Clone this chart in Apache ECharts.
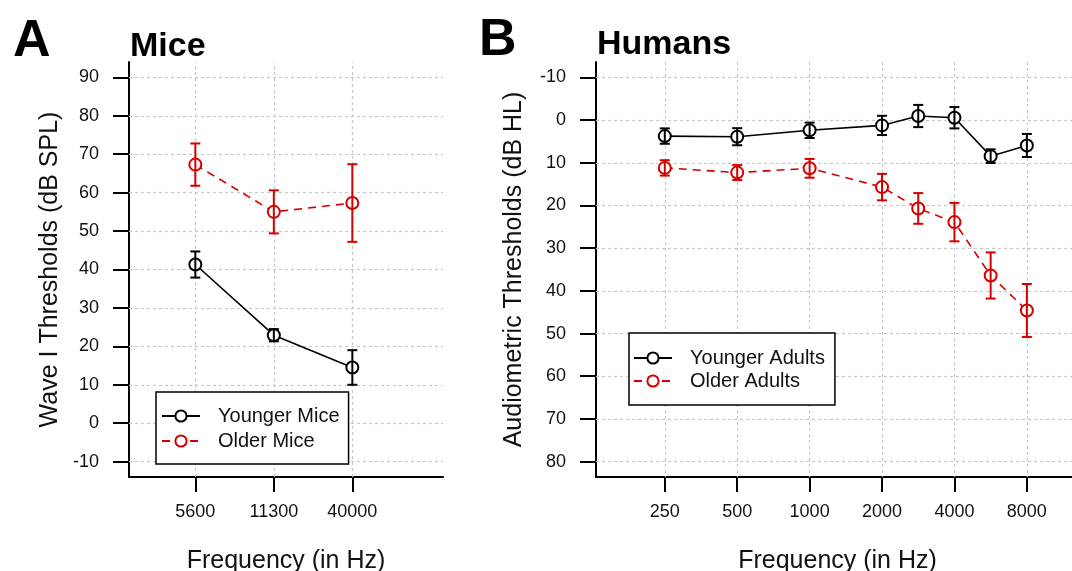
<!DOCTYPE html>
<html>
<head>
<meta charset="utf-8">
<script src="https://cdn.jsdelivr.net/npm/echarts@6/dist/echarts.min.js"></script>
<style>
  html, body { margin: 0; padding: 0; background: #fff; }
  #chart { width: 1072px; height: 571px; }
</style>
</head>
<body>
<div id="chart"></div>
<script>
// ---- data ----
var miceFreqs = ['5600', '11300', '40000'];
var micePos = [1, 2, 3];
var youngMice = [41.3, 22.9, 14.5];
var youngMiceErr = [3.4, 1.6, 4.5];
var olderMice = [67.3, 55.0, 57.3];
var olderMiceErr = [5.5, 5.6, 10.1];
var miceYTicks = [-10, 0, 10, 20, 30, 40, 50, 60, 70, 80, 90];

var humanFreqs = ['250', '500', '1000', '2000', '3000', '4000', '6000', '8000'];
var humanPos = [0, 1, 2, 3, 3.5, 4, 4.5, 5]; // octaves above 250 Hz
var humanTickLabels = ['250', '500', '1000', '2000', '4000', '8000'];
var humanTickPos = [0, 1, 2, 3, 4, 5];
var youngAdults = [3.75, 3.9, 2.4, 1.25, -0.95, -0.55, 8.45, 5.95];
var youngAdultsErr = [1.8, 2.0, 1.8, 2.25, 2.6, 2.5, 1.6, 2.7];
var olderAdults = [11.2, 12.3, 11.3, 15.7, 20.7, 23.9, 36.4, 44.6];
var olderAdultsErr = [1.8, 1.75, 2.2, 3.1, 3.6, 4.5, 5.4, 6.2];
var humanYTicks = [-10, 0, 10, 20, 30, 40, 50, 60, 70, 80];

var BLACK = '#000000';
var RED = '#d40000';
var FONT = 'Liberation Sans, Arial, sans-serif';

function pts(xs, ys) {
  return ys.map(function (y, i) { return [xs[i], y]; });
}
function bars(xs, ys, es) {
  return ys.map(function (y, i) { return [xs[i], y - es[i], y + es[i]]; });
}

function errorSeries(idx, data, color) {
  return {
    type: 'custom',
    xAxisIndex: idx, yAxisIndex: idx,
    z: 4,
    silent: true,
    encode: { x: 0, y: [1, 2] },
    data: data,
    renderItem: function (params, api) {
      var x = api.value(0);
      var lo = api.coord([x, api.value(1)]);
      var hi = api.coord([x, api.value(2)]);
      var w = 5;
      var st = { stroke: color, lineWidth: 2 };
      return {
        type: 'group',
        children: [
          { type: 'line', shape: { x1: lo[0], y1: lo[1], x2: hi[0], y2: hi[1] }, style: st },
          { type: 'line', shape: { x1: lo[0] - w, y1: lo[1], x2: lo[0] + w, y2: lo[1] }, style: st },
          { type: 'line', shape: { x1: hi[0] - w, y1: hi[1], x2: hi[0] + w, y2: hi[1] }, style: st }
        ]
      };
    }
  };
}

function gridLines(xs, ys) {
  var d = [];
  xs.forEach(function (v) { d.push({ xAxis: v }); });
  ys.forEach(function (v) { d.push({ yAxis: v }); });
  return {
    silent: true,
    z: 1,
    symbol: ['none', 'none'],
    label: { show: false },
    lineStyle: { color: '#c8c8c8', width: 1.2, type: [3, 3] },
    emphasis: { disabled: true },
    data: d
  };
}

function lineSeries(name, idx, data, color, dashed, marks) {
  var s = {
    name: name,
    type: 'line',
    xAxisIndex: idx, yAxisIndex: idx,
    z: 3,
    data: data,
    symbol: 'emptyCircle',
    symbolSize: 12,
    color: color,
    itemStyle: { color: color, borderColor: color, borderWidth: 1.8 },
    lineStyle: { color: color, width: 1.6, type: dashed ? [8, 6] : 'solid' },
    emphasis: { disabled: true }
  };
  if (marks) s.markLine = marks;
  return s;
}

var nameTxt = { color: '#111', fontSize: 25, fontFamily: FONT };

var chart = echarts.init(document.getElementById('chart'), null, { renderer: 'canvas' });
var option = {
  animation: false,
  backgroundColor: '#fff',
  title: [
    { text: 'A', left: 8, top: 11, textStyle: { fontSize: 52, fontWeight: 'bold', color: '#000', fontFamily: FONT } },
    { text: 'Mice', left: 125, top: 25, textStyle: { fontSize: 34, fontWeight: 'bold', color: '#000', fontFamily: FONT } },
    { text: 'B', left: 474, top: 10, textStyle: { fontSize: 52, fontWeight: 'bold', color: '#000', fontFamily: FONT } },
    { text: 'Humans', left: 592, top: 23, textStyle: { fontSize: 34, fontWeight: 'bold', color: '#000', fontFamily: FONT } }
  ],
  legend: [
    {
      data: ['Younger Mice', 'Older Mice'],
      orient: 'vertical', left: 156, top: 392,
      borderColor: '#000', borderWidth: 1.5, borderRadius: 0,
      backgroundColor: '#fff',
      padding: [14, 9, 13, 5],
      itemWidth: 38, itemHeight: 14, itemGap: 5,
      textStyle: { fontSize: 20, color: '#111', fontFamily: FONT, padding: [0, 0, 0, 13] }
    },
    {
      data: ['Younger Adults', 'Older Adults'],
      orient: 'vertical', left: 629, top: 333,
      borderColor: '#000', borderWidth: 1.5, borderRadius: 0,
      backgroundColor: '#fff',
      padding: [15, 10, 14, 4],
      itemWidth: 38, itemHeight: 14, itemGap: 3,
      textStyle: { fontSize: 20, color: '#111', fontFamily: FONT, padding: [0, 0, 0, 13] }
    }
  ],
  grid: [
    { left: 129, top: 62, width: 314, height: 415, outerBoundsMode: 'none', containLabel: false },
    { left: 596, top: 62, width: 483, height: 415, outerBoundsMode: 'none', containLabel: false }
  ],
  xAxis: [
    {
      gridIndex: 0, type: 'value', min: 0.155, max: 4.155,
      name: 'Frequency (in Hz)', nameLocation: 'middle', nameGap: 72, nameTextStyle: nameTxt,
      axisLine: { onZero: false, lineStyle: { color: '#000', width: 2 } },
      axisTick: { customValues: micePos, length: 15, lineStyle: { color: '#000', width: 2 } },
      axisLabel: {
        customValues: micePos, margin: 26,
        color: '#111', fontSize: 18, fontFamily: FONT,
        formatter: function (v) { return miceFreqs[micePos.indexOf(v)]; }
      },
      splitLine: { show: false }
    },
    {
      gridIndex: 1, type: 'value', min: -0.95, max: 5.72,
      name: 'Frequency (in Hz)', nameLocation: 'middle', nameGap: 72, nameTextStyle: nameTxt,
      axisLine: { onZero: false, lineStyle: { color: '#000', width: 2 } },
      axisTick: { customValues: humanTickPos, length: 15, lineStyle: { color: '#000', width: 2 } },
      axisLabel: {
        customValues: humanTickPos, margin: 26,
        color: '#111', fontSize: 18, fontFamily: FONT,
        formatter: function (v) { return humanTickLabels[humanTickPos.indexOf(v)]; }
      },
      splitLine: { show: false }
    }
  ],
  yAxis: [
    {
      gridIndex: 0, type: 'value', min: -14, max: 94,
      name: 'Wave I Thresholds (dB SPL)', nameLocation: 'middle', nameGap: 66, nameTextStyle: nameTxt,
      axisLine: { onZero: false, lineStyle: { color: '#000', width: 2 } },
      axisTick: { customValues: miceYTicks, length: 16, lineStyle: { color: '#000', width: 2 } },
      axisLabel: { customValues: miceYTicks, margin: 30, color: '#111', fontSize: 18, fontFamily: FONT },
      splitLine: { show: false }
    },
    {
      gridIndex: 1, type: 'value', min: -13.6, max: 83.6, inverse: true,
      name: 'Audiometric Thresholds (dB HL)', nameLocation: 'middle', nameGap: 69, nameTextStyle: nameTxt,
      axisLine: { onZero: false, lineStyle: { color: '#000', width: 2 } },
      axisTick: { customValues: humanYTicks, length: 16, lineStyle: { color: '#000', width: 2 } },
      axisLabel: { customValues: humanYTicks, margin: 30, color: '#111', fontSize: 18, fontFamily: FONT },
      splitLine: { show: false }
    }
  ],
  series: [
    lineSeries('Younger Mice', 0, pts(micePos, youngMice), BLACK, false, gridLines(micePos, miceYTicks)),
    lineSeries('Older Mice', 0, pts(micePos, olderMice), RED, true),
    errorSeries(0, bars(micePos, youngMice, youngMiceErr), BLACK),
    errorSeries(0, bars(micePos, olderMice, olderMiceErr), RED),
    lineSeries('Younger Adults', 1, pts(humanPos, youngAdults), BLACK, false, gridLines(humanTickPos, humanYTicks)),
    lineSeries('Older Adults', 1, pts(humanPos, olderAdults), RED, true),
    errorSeries(1, bars(humanPos, youngAdults, youngAdultsErr), BLACK),
    errorSeries(1, bars(humanPos, olderAdults, olderAdultsErr), RED)
  ]
};
chart.setOption(option);
</script>
</body>
</html>
